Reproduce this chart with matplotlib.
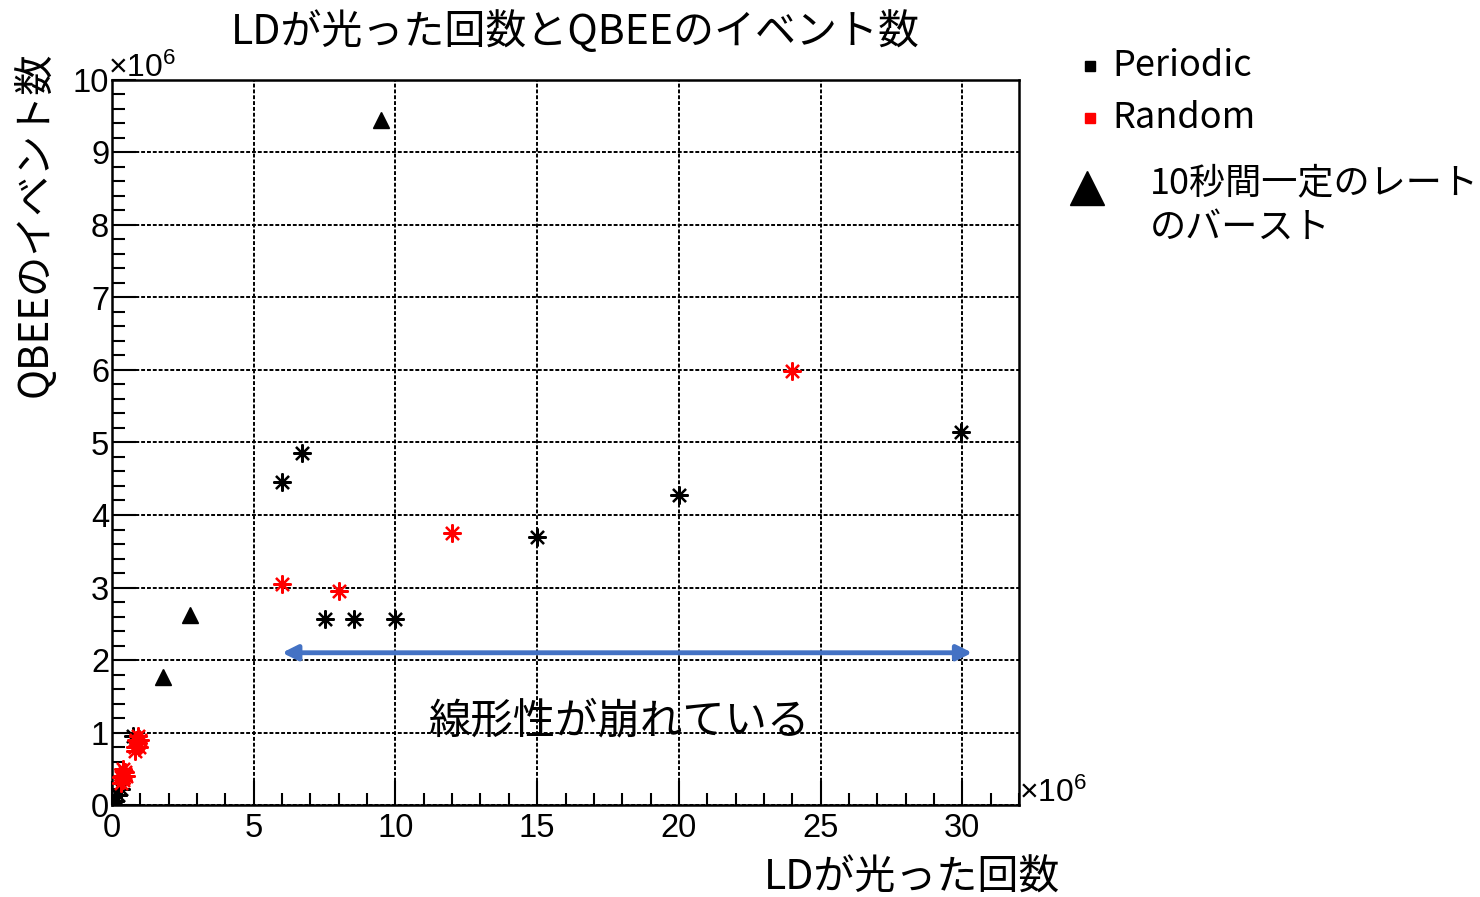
import matplotlib
matplotlib.use("Agg")
import matplotlib.pyplot as plt
from matplotlib.lines import Line2D
from matplotlib.ticker import MultipleLocator

plt.rcParams['font.family'] = ['Noto Sans CJK JP', 'DejaVu Sans']
plt.rcParams['mathtext.fontset'] = 'custom'
plt.rcParams['mathtext.rm'] = 'Liberation Sans'
plt.rcParams['mathtext.it'] = 'Liberation Sans'

# data (units of 1e6)
periodic_x = [6.0, 6.7, 7.5, 8.55, 10.0, 15.0, 20.0, 29.95, 0.05, 0.1, 0.2, 0.3, 0.75]
periodic_y = [4.45, 4.85, 2.56, 2.57, 2.57, 3.7, 4.28, 5.15, 0.02, 0.06, 0.14, 0.22, 0.95]

random_x = [6.0, 8.0, 12.0, 24.0,
            0.3, 0.35, 0.4, 0.45, 0.4, 0.3, 0.5,
            0.8, 0.9, 0.85, 1.0, 0.95, 0.9, 0.8]
random_y = [3.05, 2.95, 3.75, 5.98,
            0.3, 0.4, 0.35, 0.45, 0.5, 0.38, 0.4,
            0.8, 0.85, 0.9, 0.9, 0.8, 0.95, 0.75]

burst_x = [9.5, 2.75, 1.8]
burst_y = [9.45, 2.62, 1.76]

arrow_x = [6.0, 30.35]
arrow_y = 2.1
note_pos = (17.9, 1.15)

fig = plt.figure(figsize=(14.8, 8.97), dpi=100)
ax = fig.add_axes([112 / 1480, 1 - 805 / 897, (1019 - 112) / 1480, (805 - 80) / 897])

star = (8, 2, 0)
ax.plot(periodic_x, periodic_y, ls='none', marker=star, ms=13, mew=1.6, color='black', zorder=4)
ax.plot(random_x, random_y, ls='none', marker=star, ms=13, mew=1.6, color='red', zorder=4)
ax.plot(burst_x, burst_y, ls='none', marker='^', ms=12, color='black', zorder=4)

ax.annotate('', xy=(arrow_x[1], arrow_y), xytext=(arrow_x[0], arrow_y),
            arrowprops=dict(arrowstyle='<|-|>,head_length=0.9,head_width=0.45',
                            color='#4472C4', lw=3.5, shrinkA=0, shrinkB=0), zorder=5)
ax.text(note_pos[0], note_pos[1], '線形性が崩れている', fontsize=30.5, ha='center', va='center', zorder=6)

ax.set_xlim(0, 32)
ax.set_ylim(0, 10)
ax.xaxis.set_major_locator(MultipleLocator(5))
ax.xaxis.set_minor_locator(MultipleLocator(1))
ax.yaxis.set_major_locator(MultipleLocator(1))
ax.yaxis.set_minor_locator(MultipleLocator(0.2))
ax.tick_params(which='both', direction='in', top=False, right=False, width=1.5,
               labelsize=23.5, labelfontfamily='Liberation Sans', colors='black')
ax.tick_params(which='major', length=17)
ax.tick_params(axis='x', which='major', pad=6)
ax.tick_params(axis='y', which='major', pad=2)
ax.tick_params(which='minor', length=9)
ax.grid(True, which='major', color='black', linestyle=(0, (2, 1)), linewidth=1.4)
for s in ax.spines.values():
    s.set_linewidth(1.8)

# exponent labels
fig.text(108 / 1480, 1 - 68 / 897, r'$\times10^{6}$', fontsize=23, va='center')
fig.text(1019 / 1480, 1 - 793 / 897, r'$\times10^{6}$', fontsize=23, va='center')

fig.text(575 / 1480, 1 - 32 / 897, 'LDが光った回数とQBEEのイベント数', fontsize=29.5, ha='center', va='center')
fig.text(35 / 1480, 1 - 224 / 897, 'QBEEのイベント数', fontsize=29, ha='center', va='center', rotation=90)
fig.text(912 / 1480, 1 - 878 / 897, 'LDが光った回数', fontsize=29.5, ha='center', va='center')

# legend
fig.add_artist(Line2D([1090 / 1480], [1 - 66 / 897], marker='s', ms=7, color='black', ls='none'))
fig.add_artist(Line2D([1090 / 1480], [1 - 118 / 897], marker='s', ms=7, color='red', ls='none'))
fig.add_artist(Line2D([1087 / 1480], [1 - 188 / 897], marker='^', ms=25, color='black', ls='none'))
fig.text(1112 / 1480, 1 - 66 / 897, 'Periodic', fontsize=26, va='center')
fig.text(1112 / 1480, 1 - 118 / 897, 'Random', fontsize=26, va='center')
fig.text(1150 / 1480, 1 - 183 / 897, '10秒間一定のレート', fontsize=26, va='center')
fig.text(1150 / 1480, 1 - 228 / 897, 'のバースト', fontsize=26, va='center')

fig.savefig('out.png', dpi=100)
